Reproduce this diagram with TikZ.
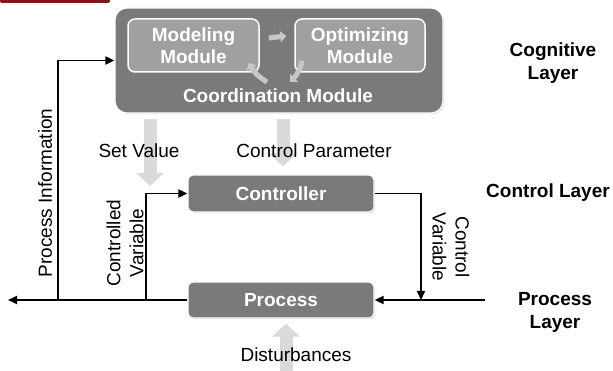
\documentclass[tikz,border=0pt]{standalone}
\usepackage{fontspec}
\setmainfont{Liberation Sans}
\usetikzlibrary{arrows.meta,shadows}
\definecolor{boxgray}{RGB}{122,122,122}
\definecolor{modgray}{RGB}{160,160,160}
\definecolor{fatgray}{RGB}{218,218,218}
\definecolor{slidered}{RGB}{125,25,25}

\begin{document}
\begin{tikzpicture}[
		x=1pt, y=-1pt,
		every node/.style={font=\fontsize{19}{23}\selectfont, align=center, inner sep=0pt},
		layerbox/.style={rectangle, rounded corners=5pt, fill=boxgray, draw=white, line width=1.2pt,
			text=white, font=\fontsize{19}{23}\selectfont\bfseries,
			drop shadow={shadow xshift=1.2pt, shadow yshift=-1.2pt, opacity=0.3}},
		modbox/.style={rectangle, rounded corners=7pt, fill=modgray, draw=white, line width=1.5pt,
			text=white, font=\fontsize{19}{22}\selectfont\bfseries},
		layerlbl/.style={font=\fontsize{19}{23}\selectfont\bfseries},
		flow/.style={line width=1.8pt, -{Triangle[length=9pt,width=8pt]}},
		fatarrow/.style={line width=13pt, draw=fatgray, -{Triangle[length=13pt,width=27pt]}},
		minarrow/.style={line width=5pt, draw=white!78!black, -{Triangle[length=6pt,width=11pt]}}
	]
  \useasboundingbox (0,0) rectangle (613,371);
  \fill[slidered, rounded corners=2pt] (0,-5) rectangle (110,3);
  % cognitive layer
  \node (cog) [layerbox, rounded corners=12pt, minimum width=328pt, minimum height=105pt] at (279,60.5) {};
  \node (model) [modbox, minimum width=131pt, minimum height=53pt] at (193.5,45.5) {Modeling\\Module};
  \node (optim) [modbox, minimum width=130pt, minimum height=53pt] at (360,45.5) {Optimizing\\Module};
  \node (coord) [text=white, font=\fontsize{19}{23}\selectfont\bfseries] at (278,96) {Coordination Module};
  \coordinate (c_up) at (267,82);
  \coordinate (c_down) at (290,82);
  \draw[minarrow] ([xshift=9pt,yshift=7.5pt]model.east) -- ([xshift=-8pt,yshift=9.5pt]optim.west);
  \draw[minarrow] (c_up) to[bend left=15] ([xshift=-11pt,yshift=10pt]model.south east);
  \draw[minarrow] ([xshift=8pt,yshift=12pt]optim.south west) to[bend left=15] (c_down);
  % control and process layers
  \node (ctrl) [layerbox, minimum width=186pt, minimum height=37pt] at (281,193.5) {Controller};
  \node (proc) [layerbox, minimum width=186pt, minimum height=36pt] at (281,300) {Process};
  \coordinate (set_tip) at (150,186);
  \coordinate (dist_in) at (286,371);
  \draw[fatarrow] ([xshift=-129pt,yshift=-5pt]cog.south) -- (set_tip);
  \draw[fatarrow] ([xshift=4pt,yshift=-5pt]cog.south) -- ([xshift=2pt,yshift=8pt]ctrl.north);
  \draw[fatarrow] (dist_in) -- ([xshift=5pt,yshift=-5pt]proc.south);
  % feedback lines
  \coordinate (out_l) at (8,300);
  \coordinate (in_r) at (485,300);
  \coordinate (tap_a) at (58,300);
  \coordinate (tap_b) at (146,300);
  \coordinate (join_r) at (421,300);
  \draw[flow] (proc.west) -- (out_l);
  \draw[flow] (in_r) -- (proc.east);
  \draw[flow] (tap_a) |- (cog.west);
  \draw[flow] (tap_b) |- (ctrl.west);
  \draw[flow] (ctrl.east) -| (join_r);
  % labels
  \node (set_lbl) at (139,151) {Set Value};
  \node (par_lbl) at (314,151) {Control Parameter};
  \node (dist_lbl) at (296,355) {Disturbances};
  \node (info_lbl) [rotate=90] at (45,193) {Process Information};
  \node (cv_lbl) [rotate=90] at (125,243) {Controlled\\Variable};
  \node (uv_lbl) [rotate=-90] at (451,247) {Control\\Variable};
  \node (cog_lbl) [layerlbl] at (553,63) {Cognitive\\Layer};
  \node (ctrl_lbl) [layerlbl] at (548,193) {Control Layer};
  \node (proc_lbl) [layerlbl] at (555,312) {Process\\Layer};
\end{tikzpicture}
\end{document}
